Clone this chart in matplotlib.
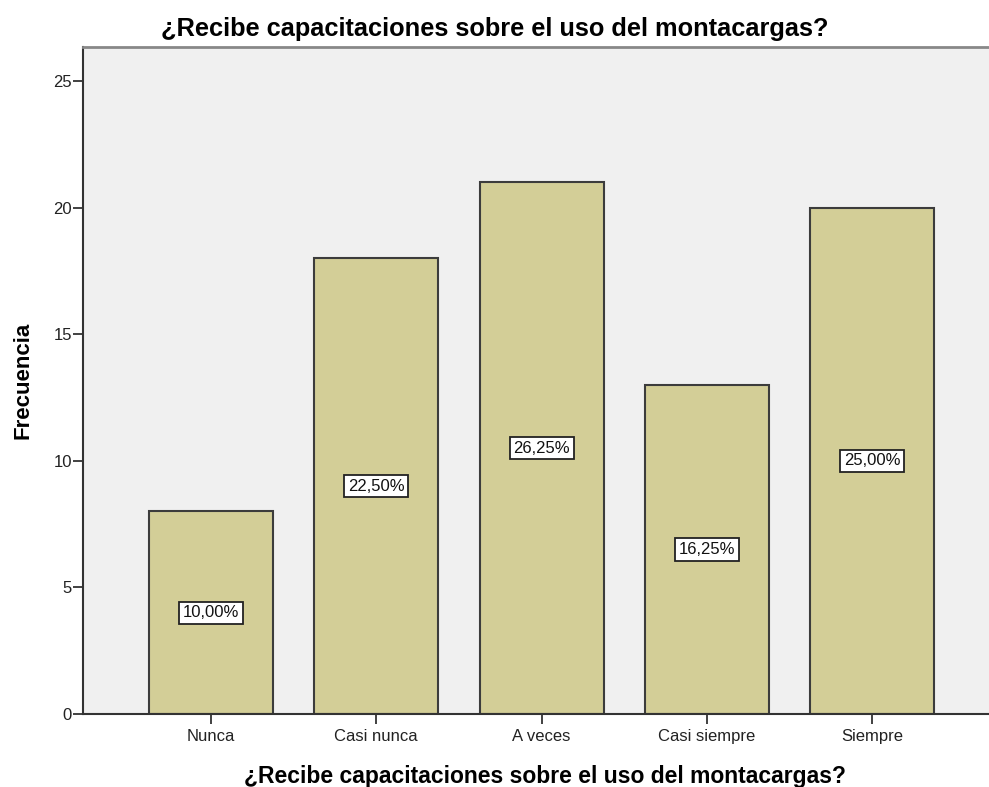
import numpy as np
import matplotlib
matplotlib.use('Agg')
import matplotlib.pyplot as plt

plt.rcParams['font.family'] = ['Liberation Sans', 'DejaVu Sans']

categorias = ['Nunca', 'Casi nunca', 'A veces', 'Casi siempre', 'Siempre']
frecuencia = [8, 18, 21, 13, 20]
yticks = [0, 5, 10, 15, 20, 25]
titulo = '¿Recibe capacitaciones sobre el uso del montacargas?'

total = sum(frecuencia)
porcentaje = [f / total * 100 for f in frecuencia]

fig = plt.figure(figsize=(9.89, 7.87), dpi=100)
ax = fig.add_axes([83 / 989, 1 - 714 / 787, 1 - 83 / 989, (714 - 47) / 787])
ax.set_facecolor('#f0f0f0')

x = np.arange(len(categorias))
ax.bar(x, frecuencia, width=0.75, color='#d3ce97', edgecolor='#3c3c3c', linewidth=1.5, zorder=2)

for xi, f, p in zip(x, frecuencia, porcentaje):
    txt = ('%.2f%%' % p).replace('.', ',')
    ax.text(xi, f / 2, txt, ha='center', va='center', fontsize=12, color='#111111', zorder=3,
            bbox=dict(boxstyle='square,pad=0.22', facecolor='white', edgecolor='#222222', linewidth=1.3))

ax.set_xlim(-0.774, 4.707)
ax.set_ylim(0, 26.34)
ax.set_xticks(x)
ax.set_xticklabels(categorias, fontsize=12, color='#222222')
ax.set_yticks(yticks)
ax.set_yticklabels([str(t) for t in yticks], fontsize=12, color='#222222')
ax.tick_params(axis='both', direction='out', length=7.5, width=1.3, color='#333333')
ax.tick_params(axis='y', pad=0.5)
ax.tick_params(axis='x', pad=3)

for s in ['left', 'bottom']:
    ax.spines[s].set_color('#333333')
    ax.spines[s].set_linewidth(1.5)
ax.spines['top'].set_color('#888888')
ax.spines['top'].set_linewidth(2)
ax.spines['right'].set_visible(False)

ax.set_ylabel('Frecuencia', fontsize=16, fontweight='bold')
ax.yaxis.set_label_coords(-0.055, 0.5)
ax.set_xlabel(titulo, fontsize=16.5, fontweight='bold')
ax.xaxis.set_label_coords(0.51, -0.076)
fig.text(0.5, 1 - 36 / 787, titulo, ha='center', va='baseline', fontsize=18.3, fontweight='bold')

plt.savefig('out.png', dpi=100)
